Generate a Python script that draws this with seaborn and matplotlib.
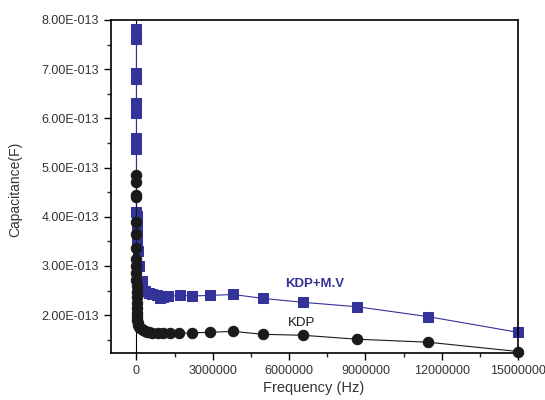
import matplotlib
matplotlib.use("Agg")
import matplotlib.pyplot as plt
import seaborn as sns
import pandas as pd
from matplotlib.ticker import FuncFormatter, MultipleLocator

# ---- data (capacitance values in units of 1e-13 F) ----
freq_mv = [20, 40, 60, 100, 150, 200, 300, 500, 700,
           1e3, 2e3, 5e3, 1e4, 2e4, 5e4, 1e5, 2e5,
           3.2e5, 5.1e5, 6.3e5, 7.9e5, 9.1e5, 1.03e6, 1.22e6, 1.70e6, 2.17e6,
           2.88e6, 3.79e6, 4.97e6, 6.55e6, 8.68e6, 11.45e6, 15e6]
cap_mv = [7.82, 7.72, 7.62, 6.92, 6.80, 6.32, 6.10, 5.60, 5.37,
          4.10, 4.02, 3.85, 3.70, 3.52, 3.30, 3.00, 2.70,
          2.50, 2.44, 2.42, 2.40, 2.35, 2.36, 2.38, 2.40, 2.39,
          2.40, 2.42, 2.34, 2.26, 2.17, 1.97, 1.65]

freq_kdp = [20, 40, 60, 100, 150, 200, 300, 500, 700,
            1e3, 1.5e3, 2e3, 3e3, 5e3, 7e3, 1e4, 1.5e4, 2e4, 3e4,
            5e4, 7e4, 1e5, 1.5e5, 2e5, 2.6e5, 3.2e5, 4e5, 5.1e5, 6.3e5,
            8.3e5, 1.03e6, 1.3e6, 1.66e6, 2.2e6, 2.88e6, 3.79e6, 4.97e6,
            6.55e6, 8.68e6, 11.45e6, 15e6]
cap_kdp = [4.85, 4.70, 4.45, 4.40, 3.90, 3.64, 3.36, 3.15, 3.00,
           2.85, 2.72, 2.60, 2.48, 2.36, 2.25, 2.15, 2.05, 1.97, 1.90,
           1.84, 1.80, 1.76, 1.74, 1.72, 1.70, 1.68, 1.66, 1.65, 1.64,
           1.63, 1.63, 1.63, 1.63, 1.64, 1.65, 1.67, 1.61,
           1.59, 1.51, 1.45, 1.26]

label_mv = "KDP+M.V"
label_kdp = "KDP"
xlabel = "Frequency (Hz)"
ylabel = "Capacitance(F)"

sns.set_style("ticks")
plt.rcParams["font.family"] = ["Liberation Sans", "DejaVu Sans"]

df_mv = pd.DataFrame({"f": freq_mv, "c": [v * 1e-13 for v in cap_mv]})
df_kdp = pd.DataFrame({"f": freq_kdp, "c": [v * 1e-13 for v in cap_kdp]})

fig = plt.figure(figsize=(5.45, 4.0), dpi=100)
ax = fig.add_axes([0.2037, 0.1175, 0.747, 0.8325])

blue = "#33339a"
ax.axvline(0, color="black", lw=0.8, zorder=1)
sns.lineplot(data=df_mv, x="f", y="c", ax=ax, color=blue, marker="s",
             markersize=6.5, markeredgecolor=blue, linewidth=0.8,
             estimator=None, sort=False, zorder=2, clip_on=False)
sns.lineplot(data=df_kdp, x="f", y="c", ax=ax, color="#1a1a1a", marker="o",
             markersize=7.5, markeredgecolor="#1a1a1a", linewidth=0.8,
             estimator=None, sort=False, zorder=3, clip_on=False)

ax.set_xlim(-1.0e6, 15.0e6)
ax.set_ylim(1.23e-13, 8.0e-13)
ax.xaxis.set_major_locator(MultipleLocator(3e6))
ax.xaxis.set_minor_locator(MultipleLocator(1.5e6))
ax.yaxis.set_major_locator(MultipleLocator(1e-13))
ax.yaxis.set_minor_locator(MultipleLocator(0.5e-13))
ax.xaxis.set_major_formatter(FuncFormatter(lambda v, p: f"{v:.0f}"))
ax.yaxis.set_major_formatter(FuncFormatter(lambda v, p: f"{v / 1e-13:.2f}E-013"))

ax.tick_params(axis="both", which="major", direction="out", length=5, width=1,
               labelsize=9, colors="black", labelcolor="#333333")
ax.tick_params(axis="both", which="minor", direction="out", length=3, width=1)
ax.tick_params(axis="x", which="major", pad=4)
for s in ax.spines.values():
    s.set_linewidth(1.2)
    s.set_color("black")

ax.set_xlabel(xlabel, fontsize=10.5, color="#333333")
ax.set_ylabel(ylabel, fontsize=10, color="#333333")
ax.xaxis.set_label_coords(0.498, -0.105)
ax.yaxis.set_label_coords(-0.236, 0.49)
ax.xaxis.label.set_va("center")
ax.yaxis.label.set_va("center")

ax.text(7.0e6, 2.63e-13, label_mv, color=blue, fontsize=9.5, fontweight="bold",
        ha="center", va="center")
ax.text(6.5e6, 1.84e-13, label_kdp, color="#1a1a1a", fontsize=9.5,
        ha="center", va="center")

fig.savefig("out.png", dpi=100)
